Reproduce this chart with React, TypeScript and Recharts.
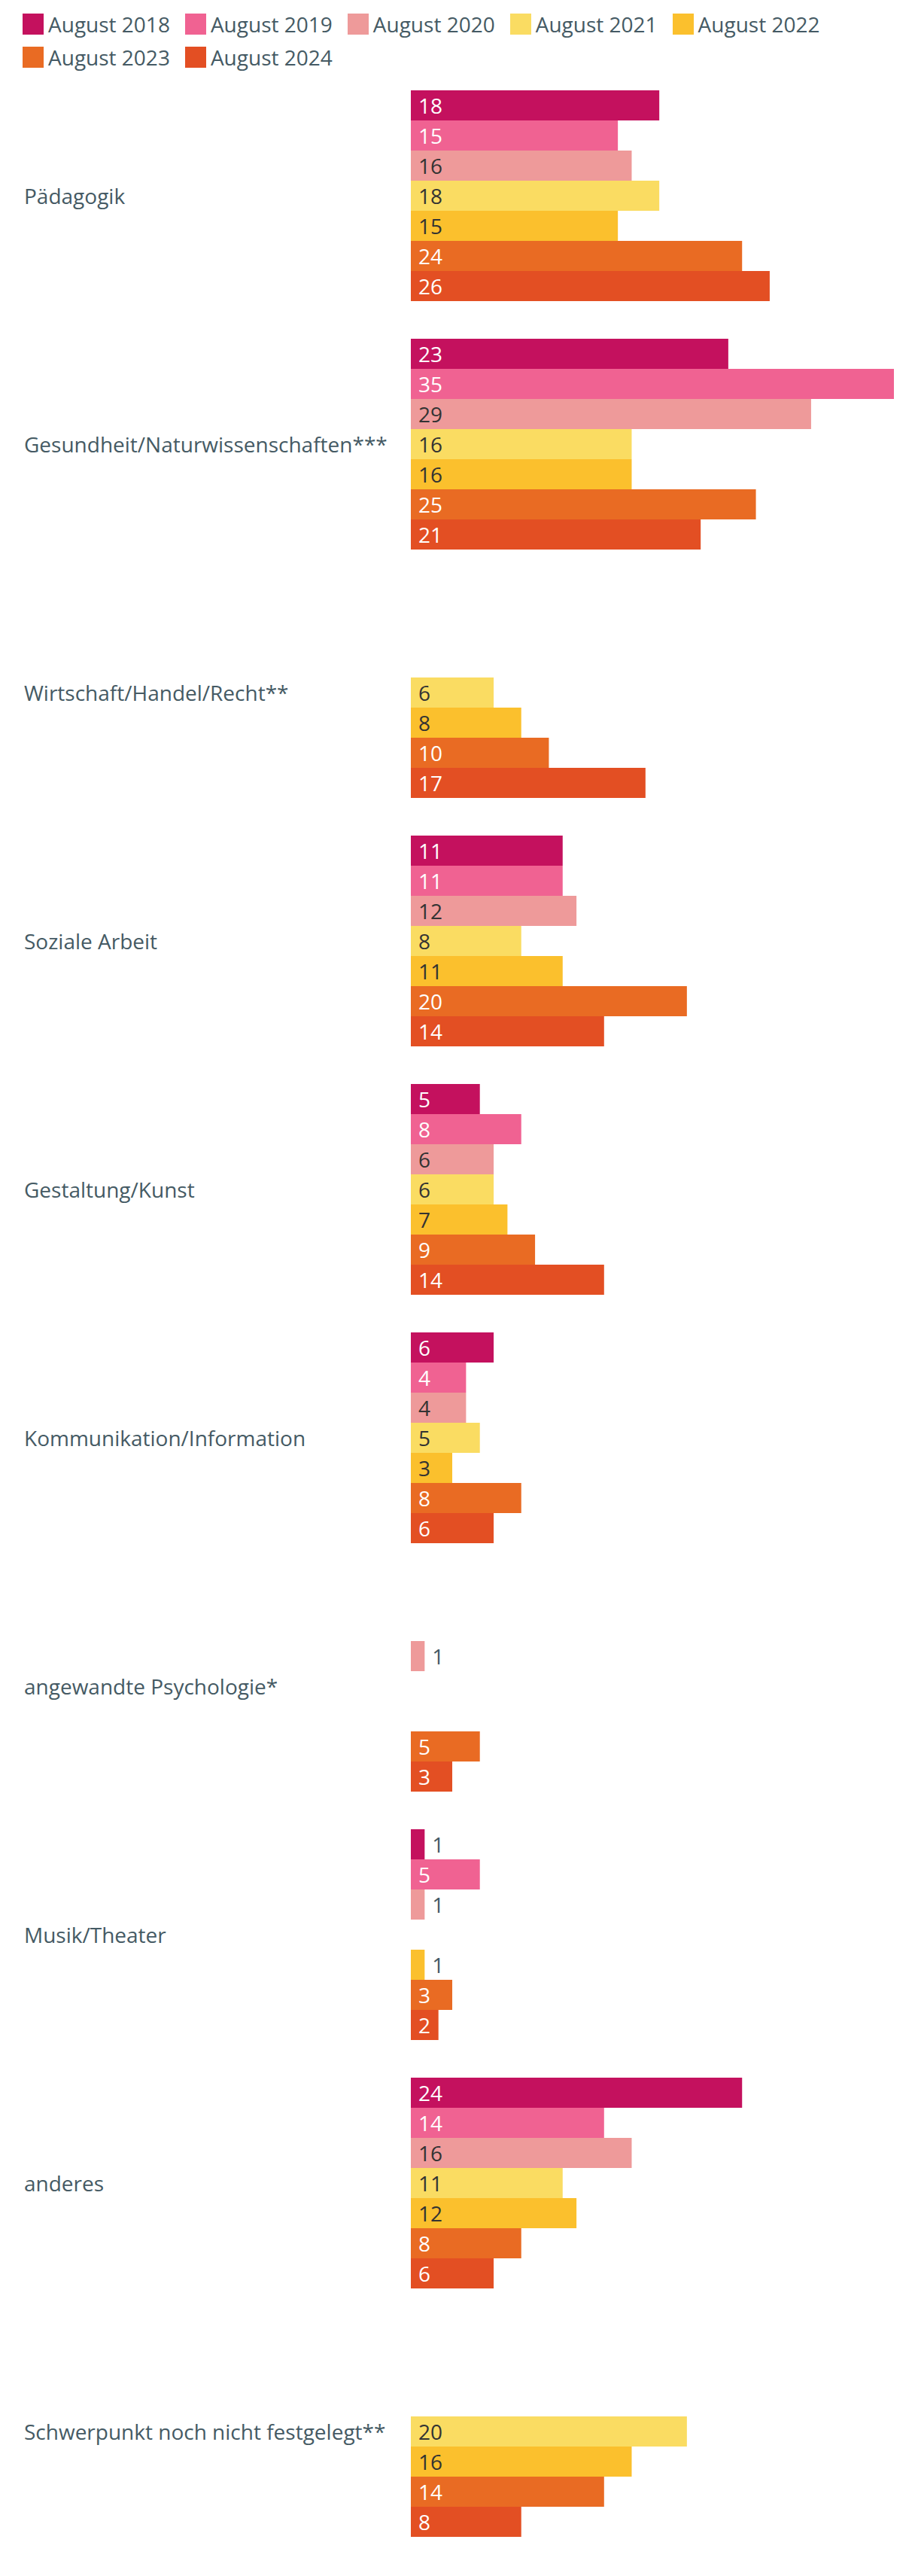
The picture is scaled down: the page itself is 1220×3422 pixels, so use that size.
import { BarChart, Bar, XAxis, YAxis, LabelList } from "recharts";

const categories = [
  "Pädagogik",
  "Gesundheit/Naturwissenschaften***",
  "Wirtschaft/Handel/Recht**",
  "Soziale Arbeit",
  "Gestaltung/Kunst",
  "Kommunikation/Information",
  "angewandte Psychologie*",
  "Musik/Theater",
  "anderes",
  "Schwerpunkt noch nicht festgelegt**",
];

const aug2018 = [18, 23, null, 11, 5, 6, null, 1, 24, null];
const aug2019 = [15, 35, null, 11, 8, 4, null, 5, 14, null];
const aug2020 = [16, 29, null, 12, 6, 4, 1, 1, 16, null];
const aug2021 = [18, 16, 6, 8, 6, 5, null, null, 11, 20];
const aug2022 = [15, 16, 8, 11, 7, 3, null, 1, 12, 16];
const aug2023 = [24, 25, 10, 20, 9, 8, 5, 3, 8, 14];
const aug2024 = [26, 21, 17, 14, 14, 6, 3, 2, 6, 8];

const series = [
  { key: "y2018", name: "August 2018", values: aug2018, color: "#c4115e", text: "#ffffff" },
  { key: "y2019", name: "August 2019", values: aug2019, color: "#f06292", text: "#ffffff" },
  { key: "y2020", name: "August 2020", values: aug2020, color: "#ee9a9a", text: "#333333" },
  { key: "y2021", name: "August 2021", values: aug2021, color: "#fadc62", text: "#333333" },
  { key: "y2022", name: "August 2022", values: aug2022, color: "#fbc02d", text: "#333333" },
  { key: "y2023", name: "August 2023", values: aug2023, color: "#e96b23", text: "#ffffff" },
  { key: "y2024", name: "August 2024", values: aug2024, color: "#e34f23", text: "#ffffff" },
];

const rows = categories.map((name, i) => {
  const row: any = { name };
  series.forEach((s) => {
    row[s.key] = s.values[i];
  });
  return row;
});

const FONT = "'Open Sans', sans-serif";
const SLATE = "#455a64";

const CategoryTick = ({ y, payload }: any) => (
  <text x={32} y={y} dominantBaseline="central" fontSize={28} fontFamily={FONT} fill={SLATE}>
    {payload.value}
  </text>
);

const makeLabel = (textColor: string) => (props: any) => {
  const { x, y, width, height, value } = props;
  if (value === null || value === undefined) return null;
  const inside = width > 30;
  return (
    <text
      x={inside ? x + 10 : x + width + 10}
      y={y + height / 2}
      dominantBaseline="central"
      fontSize={28}
      fontFamily={FONT}
      fill={inside ? textColor : SLATE}
    >
      {value}
    </text>
  );
};

export default function App() {
  return (
    <div style={{ position: "relative", width: 1220, height: 3422, background: "#fff" }}>
      <style>{"body{margin:0}"}</style>
      <div
        style={{
          position: "absolute",
          left: 30,
          top: 18,
          width: 1180,
          display: "flex",
          flexWrap: "wrap",
          rowGap: 16,
          fontFamily: FONT,
          fontSize: 28,
          color: SLATE,
        }}
      >
        {series.map((s) => (
          <div key={s.key} style={{ display: "flex", alignItems: "center", marginRight: 20, height: 28 }}>
            <span style={{ width: 28, height: 28, background: s.color, marginRight: 6, display: "inline-block" }} />
            <span style={{ lineHeight: "28px" }}>{s.name}</span>
          </div>
        ))}
      </div>
      <BarChart
        layout="vertical"
        width={1220}
        height={3422}
        data={rows}
        margin={{ top: 95, right: 32, bottom: 27, left: 0 }}
        barCategoryGap={25}
        barGap={0}
      >
        <XAxis type="number" domain={[0, 35]} hide />
        <YAxis
          type="category"
          dataKey="name"
          width={546}
          axisLine={false}
          tickLine={false}
          interval={0}
          tick={<CategoryTick />}
        />
        {series.map((s) => (
          <Bar key={s.key} dataKey={s.key} name={s.name} fill={s.color} isAnimationActive={false}>
            <LabelList dataKey={s.key} content={makeLabel(s.text)} />
          </Bar>
        ))}
      </BarChart>
    </div>
  );
}
